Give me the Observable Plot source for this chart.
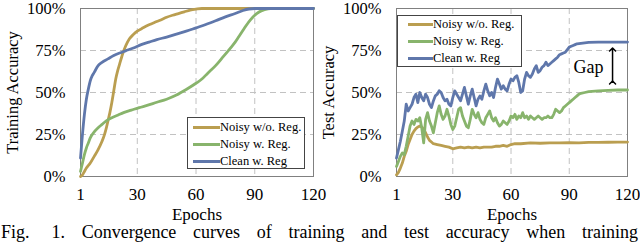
<!DOCTYPE html>
<html><head><meta charset="utf-8">
<script src="https://cdn.jsdelivr.net/npm/d3@7"></script>
<script src="https://cdn.jsdelivr.net/npm/@observablehq/plot@0.6"></script>
<style>
html,body{margin:0;padding:0;background:#fff;}
body{width:640px;height:248px;overflow:hidden;position:relative;font-family:"Liberation Serif","Times New Roman",serif;color:#000;}
#left,#right{position:absolute;top:0;}
#left{left:0;z-index:2;}
#right{left:320px;z-index:1;}
.legend{position:absolute;background:#fff;border:1px solid #444;box-sizing:border-box;font-size:12.5px;z-index:3;font-family:"Liberation Serif","Times New Roman",serif;}
.legend .row{position:absolute;height:17px;display:flex;align-items:center;white-space:nowrap;}
.legend .sw{display:inline-block;height:3px;}
#caption{position:absolute;left:1px;top:226px;width:637px;font-size:18px;line-height:12px;text-align:justify;text-align-last:justify;z-index:4;}
#caption .fig{display:inline-block;width:64px;text-align:justify;text-align-last:justify;}
</style>
</head><body>
<div id="left"></div>
<div id="right"></div>
<div id="caption"><span class="fig">Fig. 1.</span> Convergence curves of training and test accuracy when training</div>
<script>
// ---------- labels & ticks ----------
const seriesNames = ["Noisy w/o. Reg.", "Noisy w. Reg.", "Clean w. Reg"];
const seriesColors = ["#BA9E50", "#88B46C", "#5F77AB"];
const epochTicks = [1, 30, 60, 90, 120];
const pctTicks = [0, 25, 50, 75, 100];
const gridEpochs = [30, 60, 90];
const gridPcts = [25, 50, 75];
const xLabel = "Epochs";
const yLabelTrain = "Training Accuracy";
const yLabelTest = "Test Accuracy";

// ---------- training accuracy ----------
const trainEpochsNoisyNoReg = [1,2,3,4,6,8,10,12,13,14,15,16,17,18,19,20,21,22,23,24,25,26,28,30,33,36,39,42,45,48,51,54,57,60,63,120];
const trainNoisyNoReg =       [0,1,3,5,8,12,16,21,24,28,33,38,44,51,58,63,67,71,74.5,77.5,80,82,84.5,86.5,88.5,90.3,91.8,93.2,94.8,96,97,98,99,99.6,100,100];

const trainEpochsNoisyReg = [1,2,3,4,5,6,8,10,12,14,17,20,23,27,31,35,40,45,50,55,60,63,66,70,74,78,80,82,84,86,88,90,92,95,98,120];
const trainNoisyReg =       [3,8,13,17,20,23,26.5,29,31,33,35,36.5,38,39.5,41,42.3,44.2,46,48.5,51.8,55.5,58,61.5,66,71.5,77,80,83.5,87,90.5,93.5,96,97.8,99.3,100,100];

const trainEpochsClean = [1,2,3,4,5,6,7,8,10,12,15,18,21,24,28,32,36,40,45,50,55,60,65,70,75,80,84,87,90,120];
const trainClean =       [11,25,37,46,52,57,60,62,66,68,70,72,73.5,74.8,76.5,78.5,80,81.5,83,84.8,86.5,88.5,90.5,92.7,95,97,98.8,99.7,100,100];

// ---------- test accuracy ----------
const testEpochsNoisyNoReg = [1,2,3,4,5,6,7,8,9,10,11,12,13,14,15,16,17,18,19,20,22,24,26,28,30,32,34,36,38,40,42,44,46,48,50,52,54,56,58,60,62,65,70,75,80,85,90,95,100,105,110,115,120];
const testNoisyNoReg =       [1,2.5,5,8,12,15,19,22,25,27,28.5,29.5,30,29.5,28,26,23.5,21.5,20.5,19.5,19,18.5,18,17.5,16.5,17,17.5,17,17.5,17,17.5,17,17.5,17.5,17.5,18,18,18.5,18,19,19.5,19.5,20,19.8,20,20,20.2,20,20.3,20.3,20.4,20.5,20.5];

const testEpochsNoisyReg = [1,2,3,4,5,6,7,8,9,10,11,12,13,14,15,16,17,18,19,20,21,22,23,24,25,26,27,28,29,30,31,32,33,34,35,36,37,38,39,40,41,42,43,44,45,46,47,48,49,50,51,52,53,54,55,56,57,58,59,60,61,62,63,64,65,66,67,68,69,70,71,72,73,74,75,76,77,78,79,80,81,82,83,84,85,86,87,88,89,90,91,92,93,94,95,96,98,100,105,110,115,120];
const testNoisyReg =       [6,9,12,14,13,18,24,30,33,31,34,33,35,29,20,34,38,33,30,26,32,38,42,37,34,36,40,36,31,28,30,35,40,41,36,33,30,29,34,40,37,35,38,34,32,31,35,37,39,35,33,35,32,30,31,33,32,31,33,36,35,37,34,36,35,38,35,36,34,36,35,34,35,36,35,34,35,35,36,35,35,37,40,39,38,39,41,42,43,44,45,46,47,48,49,49.5,50,50.5,51,51.3,51.5,51.5];

const testEpochsClean = [1,2,3,4,5,6,7,8,9,10,11,12,13,14,15,16,17,18,19,20,21,22,23,24,25,26,27,28,29,30,31,32,33,34,35,36,37,38,39,40,41,42,43,44,45,46,47,48,49,50,51,52,53,54,55,56,57,58,59,60,61,62,63,64,65,66,67,68,69,70,71,72,73,74,75,76,77,78,79,80,81,82,83,84,85,86,87,88,89,90,91,92,93,94,96,98,100,105,110,115,120];
const testClean =       [11,16,21,27,33,43,39,41,43,47,49,44,50,47,45,49,47,43,41,45,48,49,51,50,47,45,46,43,42,47,51,49,47,45,49,53,48,43,48,52,47,42,46,48,46,51,55,51,48,50,47,53,58,55,52,54,52,51,55,58,57,59,60,56,50,51,58,62,60,59,61,64,66,62,63,65,66,68,66,67,68,69,70,71,72.5,73,73.5,74,75.5,77,77.5,78,78.5,79,79.3,79.6,79.8,80,80,80,80];

// ---------- gap annotation ----------
const gapArrowEpoch = [112.3];
const gapArrowLow = [56];
const gapArrowHigh = [75.6];
const gapTextEpoch = [107.6];
const gapTextValue = [64.9];
const gapText = ["Gap"];

function toRows(xs, ys) { return xs.map((e, i) => ({e, v: ys[i]})); }

const serif = "'Liberation Serif', 'Times New Roman', serif";

function panel({ylabel, marginLeft, marginRight, series, curve, extra}) {
  return Plot.plot({
    width: 320, height: 228,
    marginLeft, marginRight, marginTop: 8, marginBottom: 52,
    style: `background: transparent; overflow: visible; font-family: ${serif}; color: #000;`,
    x: {domain: [1, 120]},
    y: {domain: [0, 100]},
    marks: [
      Plot.ruleX(gridEpochs, {stroke: "#c2c2c2", strokeDasharray: "6,4", strokeWidth: 1}),
      Plot.ruleY(gridPcts, {stroke: "#c2c2c2", strokeDasharray: "6,4", strokeWidth: 1}),
      Plot.frame({stroke: "#808080", strokeWidth: 1}),
      Plot.axisX(epochTicks, {tickSize: 0, tickPadding: 11, fontSize: 17, fontFamily: serif, label: xLabel, labelAnchor: "center", labelArrow: "none", labelOffset: 43}),
      Plot.axisY(pctTicks, {tickSize: 0, tickPadding: 15, fontSize: 16.5, fontFamily: serif, tickFormat: d => d + "%", label: ylabel, labelAnchor: "center", labelArrow: "none", labelOffset: 74}),
      ...series.map((s, i) => Plot.line(toRows(s[0], s[1]), {x: "e", y: "v", stroke: seriesColors[i], strokeWidth: 2.8, curve})),
      ...(extra || [])
    ]
  });
}

document.getElementById("left").append(panel({
  ylabel: yLabelTrain, marginLeft: 80, marginRight: 7, curve: "monotone-x",
  series: [[trainEpochsNoisyNoReg, trainNoisyNoReg], [trainEpochsNoisyReg, trainNoisyReg], [trainEpochsClean, trainClean]]
}));

const gapRows = gapArrowEpoch.map((e, i) => ({e, lo: gapArrowLow[i], hi: gapArrowHigh[i], te: gapTextEpoch[i], tv: gapTextValue[i], t: gapText[i]}));

document.getElementById("right").append(panel({
  ylabel: yLabelTest, marginLeft: 76, marginRight: 13, curve: "linear",
  series: [[testEpochsNoisyNoReg, testNoisyNoReg], [testEpochsNoisyReg, testNoisyReg], [testEpochsClean, testClean]],
  extra: [
    Plot.link(gapRows, {x1: "e", x2: "e", y1: "lo", y2: "hi", stroke: "#000", strokeWidth: 1.5, markerStart: "arrow", markerEnd: "arrow"}),
    Plot.text(gapRows, {x: "te", y: "tv", text: "t", fontSize: 18, fontFamily: serif, textAnchor: "end", fill: "#000"})
  ]
}));

// ---------- legends (HTML overlays) ----------
function legend(box, swLeft, swWidth, rowTops) {
  const div = document.createElement("div");
  div.className = "legend";
  Object.assign(div.style, {left: box[0] + "px", top: box[1] + "px", width: box[2] + "px", height: box[3] + "px"});
  seriesNames.forEach((name, i) => {
    const row = document.createElement("div");
    row.className = "row";
    row.style.left = swLeft + "px";
    row.style.top = rowTops[i] + "px";
    const sw = document.createElement("span");
    sw.className = "sw";
    sw.style.width = swWidth + "px";
    sw.style.background = seriesColors[i];
    const tx = document.createElement("span");
    tx.textContent = name;
    row.append(sw, tx);
    div.append(row);
  });
  document.body.append(div);
}
legend([187, 117, 118, 52], 5, 27, [1, 18, 35]);
legend([397, 15, 125, 52], 10, 25, [0, 17, 34]);
</script>
</body></html>
